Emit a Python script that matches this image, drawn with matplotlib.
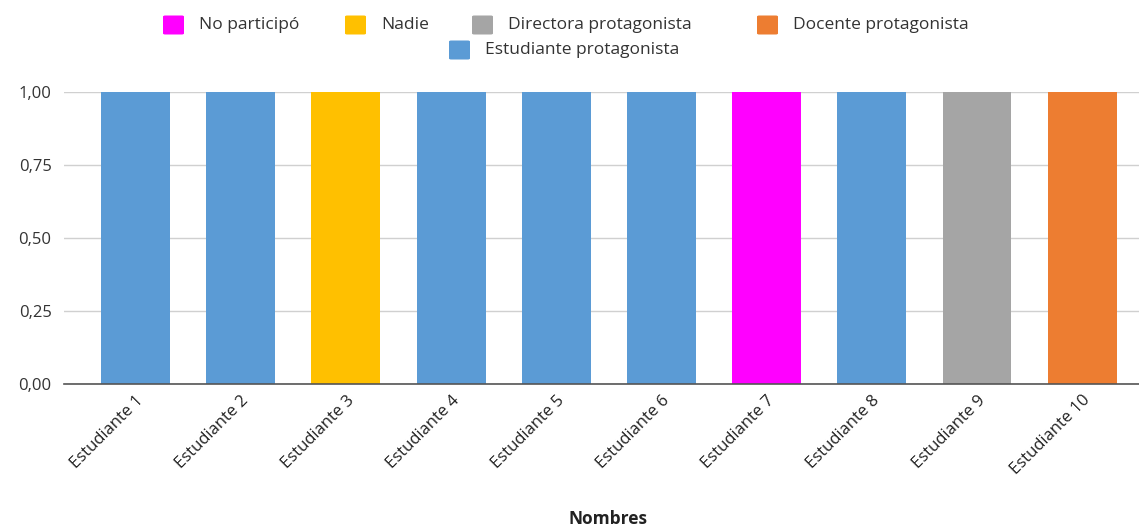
import matplotlib.pyplot as plt
from matplotlib.patches import FancyBboxPatch

plt.rcParams['font.family'] = ['Open Sans', 'DejaVu Sans']

nombres = ['Estudiante 1', 'Estudiante 2', 'Estudiante 3', 'Estudiante 4', 'Estudiante 5',
           'Estudiante 6', 'Estudiante 7', 'Estudiante 8', 'Estudiante 9', 'Estudiante 10']
valores = [1, 1, 1, 1, 1, 1, 1, 1, 1, 1]
roles = ['Estudiante protagonista', 'Estudiante protagonista', 'Nadie',
         'Estudiante protagonista', 'Estudiante protagonista', 'Estudiante protagonista',
         'No participó', 'Estudiante protagonista', 'Directora protagonista',
         'Docente protagonista']

categorias = ['No participó', 'Nadie', 'Directora protagonista', 'Docente protagonista',
              'Estudiante protagonista']
colores = {'No participó': '#FF00FF', 'Nadie': '#FFC000',
           'Directora protagonista': '#A5A5A5', 'Docente protagonista': '#ED7D31',
           'Estudiante protagonista': '#5B9BD5'}

W, H = 1139, 527
fig = plt.figure(figsize=(W / 100, H / 100), dpi=100)
ax = fig.add_axes([64 / W, 1 - 384 / H, 1 - 64 / W, 292 / H])

x = range(len(nombres))
ax.bar(x, valores, width=0.655, color=[colores[r] for r in roles], zorder=3)

ax.set_ylim(0, 1)
ax.set_xlim(-0.68, 9.54)
ax.set_yticks([0, 0.25, 0.5, 0.75, 1.0])
ax.set_yticklabels(['0,00', '0,25', '0,50', '0,75', '1,00'], fontsize=12, color='#333333')
ax.set_xticks(list(x))
ax.set_xticklabels(nombres, rotation=45, ha='right', rotation_mode='anchor',
                   fontsize=12, color='#222222')
ax.tick_params(axis='both', length=0, pad=6)
ax.tick_params(axis='y', pad=9)
ax.grid(axis='y', color='#D0D0D0', linewidth=1, zorder=0)
for s in ['top', 'right', 'left']:
    ax.spines[s].set_visible(False)
ax.spines['bottom'].set_color('#555555')
ax.spines['bottom'].set_linewidth(1.2)
ax.spines['bottom'].set_zorder(4)

fig.text(608 / W, 1 - 519 / H, 'Nombres', fontsize=12.5, fontweight='bold',
         color='#222222', ha='center', va='center')

# legend drawn by hand: two centred rows like the original
filas = [categorias[:4], categorias[4:]]
texto_x = [[199, 381, 508, 793], [485]]
fila_y = [25, 50]
for fila, tx, cy in zip(filas, texto_x, fila_y):
    for cat, txx in zip(fila, tx):
        bx = txx - 36
        fig.add_artist(FancyBboxPatch((bx / W, 1 - (cy + 9.5) / H), 21 / W, 19 / H,
                                      boxstyle='round,pad=0,rounding_size=0.002',
                                      facecolor=colores[cat], edgecolor='none',
                                      transform=fig.transFigure))
        fig.text(txx / W, 1 - cy / H, cat, fontsize=12.5, color='#333333',
                 ha='left', va='center')

fig.savefig('out.png', dpi=100)
